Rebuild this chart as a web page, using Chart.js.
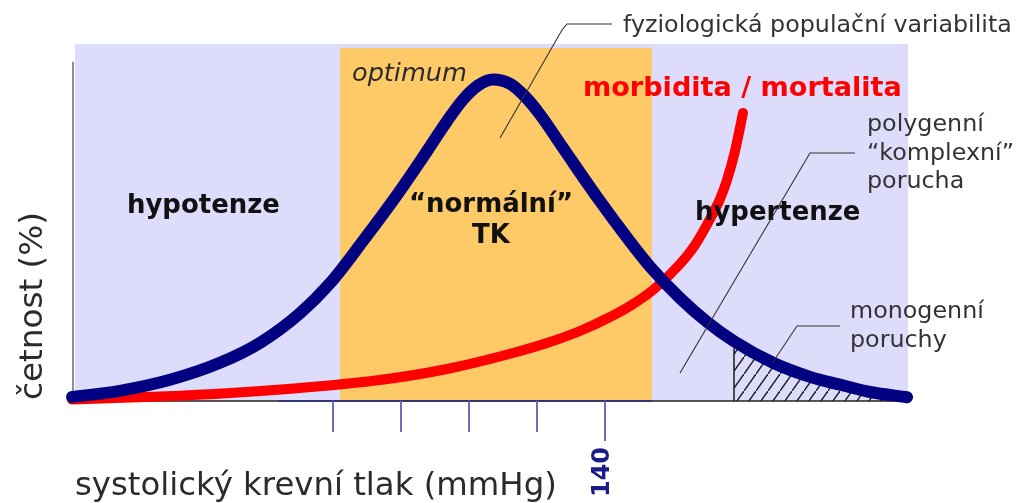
<!DOCTYPE html>
<html>
<head>
<meta charset="utf-8">
<script src="https://cdn.jsdelivr.net/npm/chart.js@4.4.0/dist/chart.umd.min.js"></script>
<style>
  html, body { margin: 0; padding: 0; background: #fff; }
  #wrap { width: 1017px; height: 503px; }
</style>
</head>
<body>
<div id="wrap"><canvas id="bp" width="1017" height="503"></canvas></div>
<script>
// systolický TK (mmHg) -> četnost v populaci (relativní)
const populationCurve = [
  { x: 61.62, y: 1.12 },  { x: 68.68, y: 2.86 },  { x: 76.03, y: 5.94 },
  { x: 83.38, y: 10.70 }, { x: 89.27, y: 16.30 }, { x: 95.15, y: 24.59 },
  { x: 99.56, y: 32.97 }, { x: 104.41, y: 44.82 },{ x: 109.41, y: 57.68 },
  { x: 112.79, y: 67.03 },{ x: 116.76, y: 78.38 },{ x: 119.12, y: 84.43 },
  { x: 121.32, y: 88.40 },{ x: 123.53, y: 90.08 },{ x: 126.03, y: 88.88 },
  { x: 128.24, y: 85.29 },{ x: 130.44, y: 80.25 },{ x: 133.82, y: 70.90 },
  { x: 138.82, y: 57.14 },{ x: 143.68, y: 44.65 },{ x: 146.62, y: 37.65 },
  { x: 151.03, y: 28.82 },{ x: 155.00, y: 22.16 },{ x: 158.97, y: 16.72 },
  { x: 164.71, y: 10.70 },{ x: 170.15, y: 6.75 }, { x: 174.56, y: 4.57 },
  { x: 178.97, y: 2.52 }, { x: 184.41, y: 1.06 }
];

// morbidita / mortalita
const riskCurve = [
  { x: 61.62, y: 0.42 },  { x: 74.56, y: 1.26 },  { x: 84.85, y: 2.24 },
  { x: 95.15, y: 3.64 },  { x: 106.91, y: 5.88 }, { x: 116.76, y: 8.96 },
  { x: 126.47, y: 13.45 },{ x: 131.91, y: 16.53 },{ x: 136.32, y: 19.61 },
  { x: 140.74, y: 23.53 },{ x: 143.68, y: 26.61 },{ x: 147.06, y: 31.09 },
  { x: 151.03, y: 38.38 },{ x: 153.24, y: 43.70 },{ x: 155.44, y: 50.98 },
  { x: 156.91, y: 56.58 },{ x: 157.94, y: 61.90 },{ x: 159.12, y: 70.03 },
  { x: 160.29, y: 80.67 }
];

// šrafovaný konec rozložení (monogenní poruchy)
const monogenicTail = [
  { x: 158.97, y: 16.72 }, { x: 164.71, y: 10.70 }, { x: 170.15, y: 6.75 },
  { x: 174.56, y: 4.57 },  { x: 178.97, y: 2.52 },  { x: 184.41, y: 1.06 }
];

const tickValues = [100, 110, 120, 130, 140];
const tickLabels = ['', '', '', '', '140'];
const axisRange = [61.62, 184.85];
const backdropRange = [62.06, 184.56];
const optimumRange = [101.03, 146.91];

const FONT = '"DejaVu Sans"';

function hatchPattern() {
  const c = document.createElement('canvas');
  c.width = 12; c.height = 17;
  const g = c.getContext('2d');
  g.strokeStyle = '#1a1a1a';
  g.lineWidth = 1.4;
  g.beginPath();
  g.moveTo(-1.2, 18.7); g.lineTo(13.2, -1.7);
  g.stroke();
  return g.createPattern(c, 'repeat');
}

// velikost písma tak, aby text měl danou šířku
function fitSize(ctx, text, width, weight, style) {
  ctx.font = `${style} ${weight} 20px ${FONT}`;
  return 20 * width / ctx.measureText(text).width;
}

function put(ctx, text, x, y, size, weight, style, color, align) {
  ctx.font = `${style} ${weight} ${size}px ${FONT}`;
  ctx.fillStyle = color;
  ctx.textAlign = align || 'left';
  ctx.textBaseline = 'alphabetic';
  ctx.fillText(text, x, y);
}

function leader(ctx, pts) {
  ctx.beginPath();
  ctx.moveTo(pts[0][0], pts[0][1]);
  for (let i = 1; i < pts.length; i++) ctx.lineTo(pts[i][0], pts[i][1]);
  ctx.stroke();
}

const backdrop = {
  id: 'backdrop',
  beforeDatasetsDraw(chart) {
    const { ctx, scales: { x, y } } = chart;
    ctx.save();
    // hypotenze / hypertenze
    ctx.fillStyle = '#dddcfb';
    ctx.fillRect(x.getPixelForValue(backdropRange[0]), y.getPixelForValue(100),
      x.getPixelForValue(backdropRange[1]) - x.getPixelForValue(backdropRange[0]),
      y.getPixelForValue(0) - y.getPixelForValue(100));
    // pásmo normálního TK
    ctx.fillStyle = '#fdca67';
    ctx.fillRect(x.getPixelForValue(optimumRange[0]), y.getPixelForValue(98.9),
      x.getPixelForValue(optimumRange[1]) - x.getPixelForValue(optimumRange[0]),
      y.getPixelForValue(0) - y.getPixelForValue(98.9));

    // osa y
    const y0 = y.getPixelForValue(0);
    ctx.strokeStyle = '#8e8e9e';
    ctx.lineWidth = 2;
    leader(ctx, [[x.left + 1, y.getPixelForValue(95)], [x.left + 1, y0]]);

    // osa x
    ctx.lineWidth = 1.6;
    ctx.strokeStyle = '#222';
    leader(ctx, [[x.left, y0], [x.right, y0]]);
    ctx.strokeStyle = '#2e2e8a';
    leader(ctx, [[x.getPixelForValue(92), y0], [x.getPixelForValue(optimumRange[1]), y0]]);
    ctx.restore();
  },
  afterDatasetsDraw(chart) {
    const { ctx, scales: { x, y } } = chart;
    const y0 = y.getPixelForValue(0);
    ctx.save();

    // svislé ohraničení šrafované oblasti
    ctx.strokeStyle = '#1a1a1a';
    ctx.lineWidth = 1.5;
    const hx = x.getPixelForValue(monogenicTail[0].x);
    leader(ctx, [[hx, y0], [hx, y.getPixelForValue(monogenicTail[0].y) + 7]]);

    // značky na ose x
    ctx.strokeStyle = '#6c6cc0';
    ctx.lineWidth = 2;
    tickValues.forEach((v, i) => {
      const px = Math.round(x.getPixelForValue(v));
      leader(ctx, [[px, y0], [px, y0 + (tickLabels[i] ? 40 : 31)]]);
      if (tickLabels[i]) {
        ctx.save();
        ctx.translate(px - 2, y0 + 46);
        ctx.rotate(-Math.PI / 2);
        const s = fitSize(ctx, tickLabels[i], 50, 'bold', 'normal');
        ctx.font = `normal bold ${s}px ${FONT}`;
        ctx.fillStyle = '#1c1c88';
        ctx.textAlign = 'right';
        ctx.textBaseline = 'middle';
        ctx.fillText(tickLabels[i], 0, 0);
        ctx.restore();
      }
    });

    // popisy os
    const xs = fitSize(ctx, 'systolický krevní tlak (mmHg)', 482, 'normal', 'normal');
    put(ctx, 'systolický krevní tlak (mmHg)', 75, 495, xs, 'normal', 'normal', '#2b2b2b');
    ctx.save();
    ctx.translate(42, 400);
    ctx.rotate(-Math.PI / 2);
    const ys = fitSize(ctx, 'četnost (%)', 188, 'normal', 'normal');
    put(ctx, 'četnost (%)', 0, 0, ys, 'normal', 'normal', '#2b2b2b');
    ctx.restore();

    // oblasti
    const bs = fitSize(ctx, 'hypotenze', 153, 'bold', 'normal');
    put(ctx, 'hypotenze', 127, 213, bs, 'bold', 'normal', '#111');
    put(ctx, 'hypertenze', 695, 220, bs, 'bold', 'normal', '#111');
    put(ctx, '\u201Cnormální\u201D', 491, 212, bs, 'bold', 'normal', '#111', 'center');
    put(ctx, 'TK', 491, 243, bs, 'bold', 'normal', '#111', 'center');
    const os = fitSize(ctx, 'optimum', 115, 'normal', 'italic');
    put(ctx, 'optimum', 352, 81, os, 'normal', 'italic', '#2b2b2b');
    const ms = fitSize(ctx, 'morbidita / mortalita', 319, 'bold', 'normal');
    put(ctx, 'morbidita / mortalita', 583, 96, ms, 'bold', 'normal', '#ff0000');

    // komentáře s odkazovými čarami
    const as = fitSize(ctx, 'fyziologická populační variabilita', 389, 'normal', 'normal');
    put(ctx, 'fyziologická populační variabilita', 623, 32, as, 'normal', 'normal', '#333');
    put(ctx, 'polygenní', 867, 131, as, 'normal', 'normal', '#333');
    put(ctx, '\u201Ckomplexní\u201D', 867, 160, as, 'normal', 'normal', '#333');
    put(ctx, 'porucha', 867, 188, as, 'normal', 'normal', '#333');
    put(ctx, 'monogenní', 850, 318, as, 'normal', 'normal', '#333');
    put(ctx, 'poruchy', 850, 347, as, 'normal', 'normal', '#333');

    ctx.strokeStyle = '#333';
    ctx.lineWidth = 1.1;
    leader(ctx, [[500, 138], [562, 30], [567, 24], [612, 24]]);
    leader(ctx, [[855, 153], [810, 153], [680, 373]]);
    leader(ctx, [[840, 326], [797, 326], [773, 362]]);
    ctx.restore();
  }
};

new Chart(document.getElementById('bp'), {
  type: 'line',
  data: {
    datasets: [
      {
        label: 'fyziologická populační variabilita',
        data: populationCurve,
        borderColor: '#000080',
        borderWidth: 12,
        borderCapStyle: 'round',
        cubicInterpolationMode: 'monotone',
        fill: false,
        clip: false,
        order: 0
      },
      {
        label: 'morbidita / mortalita',
        data: riskCurve,
        borderColor: '#ff0000',
        borderWidth: 10,
        borderCapStyle: 'round',
        cubicInterpolationMode: 'monotone',
        fill: false,
        clip: false,
        order: 1
      },
      {
        label: 'monogenní poruchy',
        data: monogenicTail,
        borderWidth: 0,
        borderColor: 'rgba(0,0,0,0)',
        backgroundColor: hatchPattern(),
        cubicInterpolationMode: 'monotone',
        fill: 'origin',
        order: 2
      }
    ]
  },
  options: {
    responsive: false,
    devicePixelRatio: 1,
    animation: false,
    layout: { padding: { left: 72, right: 107, top: 44, bottom: 102 } },
    elements: { point: { radius: 0, hoverRadius: 0 } },
    scales: {
      x: { type: 'linear', min: axisRange[0], max: axisRange[1], display: false },
      y: { min: 0, max: 100, display: false }
    },
    plugins: { legend: { display: false }, tooltip: { enabled: false } }
  },
  plugins: [backdrop]
});
</script>
</body>
</html>
